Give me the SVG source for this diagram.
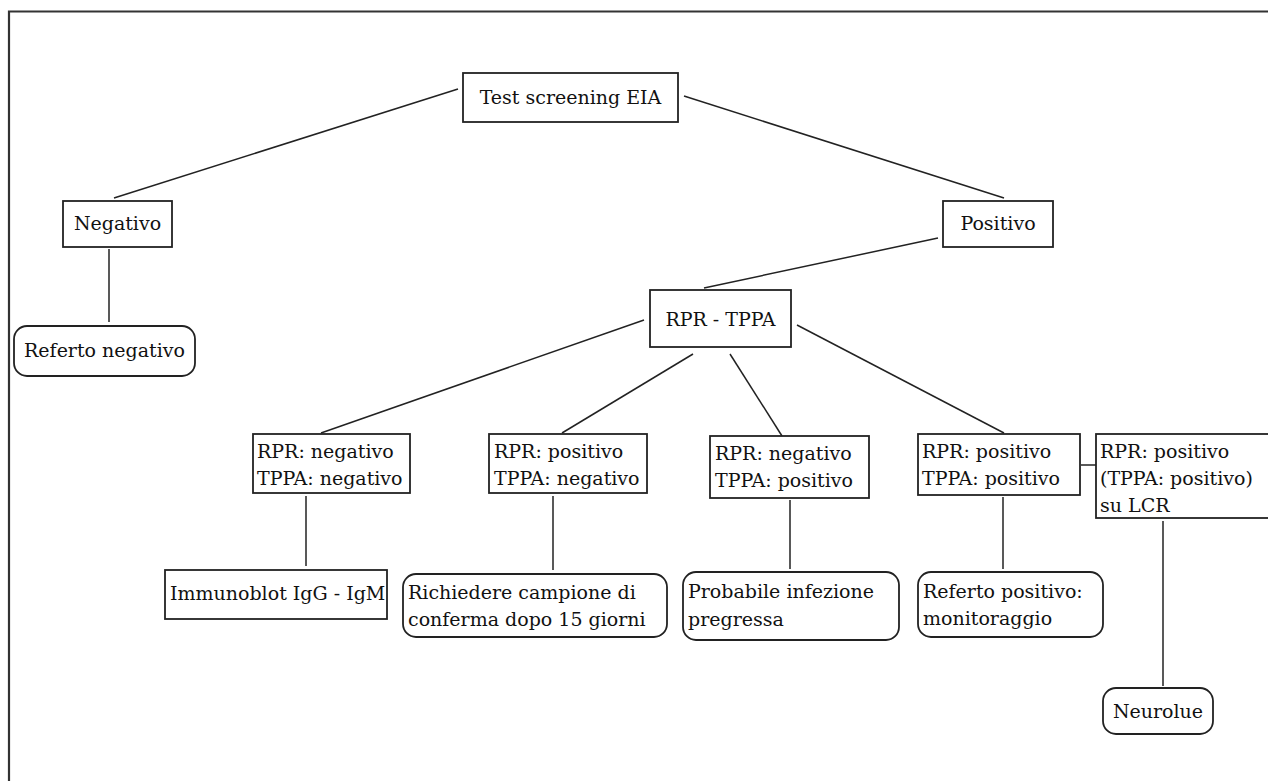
<svg xmlns="http://www.w3.org/2000/svg" width="1268" height="781" viewBox="0 0 1268 781">
<style>
.bx{fill:#fff;stroke:#222;stroke-width:1.8}
.ln{stroke:#222;stroke-width:1.5;fill:none}
text{font-family:"DejaVu Serif","Liberation Serif",serif;font-size:19px;fill:#111}
.c{text-anchor:middle}
</style>
<rect x="0" y="0" width="1268" height="781" fill="#fff"/>
<path d="M9 781 V11.5 H1268" fill="none" stroke="#333" stroke-width="2.2"/>
<g id="connectors">
<line class="ln" x1="458" y1="89" x2="114" y2="198"/>
<line class="ln" x1="684" y1="96" x2="1004" y2="198"/>
<line class="ln" x1="109" y1="249" x2="109" y2="322"/>
<line class="ln" x1="938" y1="238" x2="704" y2="288"/>
<line class="ln" x1="644" y1="320" x2="321" y2="433"/>
<line class="ln" x1="693" y1="354" x2="562" y2="433"/>
<line class="ln" x1="730" y1="354" x2="782" y2="436"/>
<line class="ln" x1="797" y1="325" x2="1004" y2="433"/>
<line class="ln" x1="1081" y1="465" x2="1096" y2="465"/>
<line class="ln" x1="306" y1="496" x2="306" y2="566"/>
<line class="ln" x1="553" y1="496" x2="553" y2="570"/>
<line class="ln" x1="790" y1="500" x2="790" y2="569"/>
<line class="ln" x1="1003" y1="497" x2="1003" y2="569"/>
<line class="ln" x1="1163" y1="521" x2="1163" y2="686"/>
</g>
<g id="n-test"><rect class="bx" x="463" y="73" width="215" height="49"/><text class="c" x="570.5" y="104">Test screening EIA</text></g>
<g id="n-negativo"><rect class="bx" x="63" y="201" width="109" height="46"/><text class="c" x="117.5" y="230">Negativo</text></g>
<g id="n-positivo"><rect class="bx" x="943" y="201" width="110" height="46"/><text class="c" x="998" y="230">Positivo</text></g>
<g id="n-referto-neg"><rect class="bx" x="14" y="326" width="181" height="50" rx="13"/><text class="c" x="104.5" y="357">Referto negativo</text></g>
<g id="n-rprtppa"><rect class="bx" x="650" y="290" width="141" height="57"/><text class="c" x="720.5" y="326">RPR - TPPA</text></g>
<g id="n-b1"><rect class="bx" x="253" y="434" width="157" height="59"/><text x="257" y="458">RPR: negativo</text><text x="257" y="485">TPPA: negativo</text></g>
<g id="n-b2"><rect class="bx" x="489" y="434" width="158" height="59"/><text x="494" y="458">RPR: positivo</text><text x="494" y="485">TPPA: negativo</text></g>
<g id="n-b3"><rect class="bx" x="710" y="436" width="159" height="62"/><text x="715" y="460">RPR: negativo</text><text x="715" y="487">TPPA: positivo</text></g>
<g id="n-b4"><rect class="bx" x="918" y="434" width="162" height="61"/><text x="922" y="458">RPR: positivo</text><text x="922" y="485">TPPA: positivo</text></g>
<g id="n-b5"><rect class="bx" x="1096" y="434" width="180" height="84"/><text x="1100" y="458">RPR: positivo</text><text x="1100" y="485">(TPPA: positivo)</text><text x="1100" y="512">su LCR</text></g>
<g id="n-immuno"><rect class="bx" x="165" y="570" width="222" height="49"/><text x="170" y="600">Immunoblot IgG - IgM</text></g>
<g id="n-richiedere"><rect class="bx" x="403" y="574" width="264" height="63" rx="13"/><text x="408" y="599">Richiedere campione di</text><text x="408" y="626">conferma dopo 15 giorni</text></g>
<g id="n-probabile"><rect class="bx" x="683" y="572" width="216" height="68" rx="13"/><text x="688" y="598">Probabile infezione</text><text x="688" y="626">pregressa</text></g>
<g id="n-referto-pos"><rect class="bx" x="918" y="572" width="185" height="65" rx="13"/><text x="923" y="598">Referto positivo:</text><text x="923" y="625">monitoraggio</text></g>
<g id="n-neurolue"><rect class="bx" x="1103" y="688" width="110" height="46" rx="13"/><text class="c" x="1158" y="718">Neurolue</text></g>
</svg>
